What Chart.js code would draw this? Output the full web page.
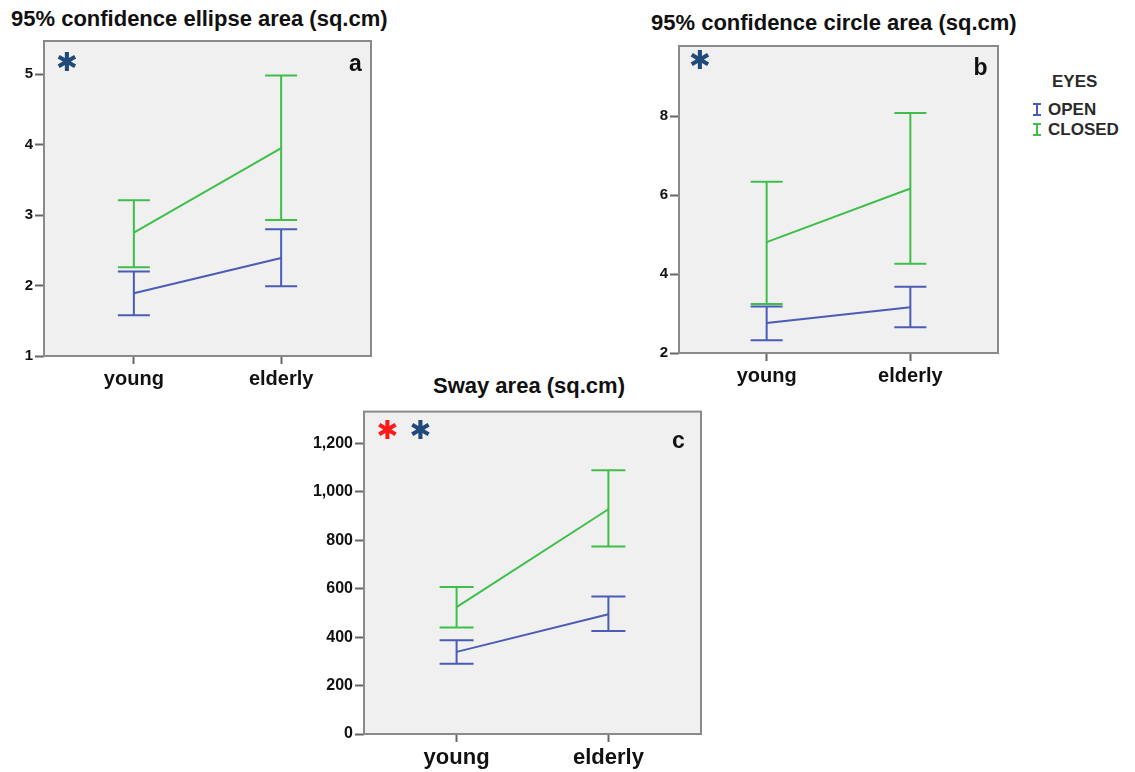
<!DOCTYPE html>
<html>
<head>
<meta charset="utf-8">
<title>Postural sway: young vs elderly, eyes open / closed</title>
<script src="https://cdn.jsdelivr.net/npm/chart.js@4.4.1/dist/chart.umd.min.js"></script>
<style>
  html, body { margin: 0; padding: 0; background: #fff; }
  body { position: relative; width: 1135px; height: 772px; overflow: hidden;
         font-family: "Liberation Sans", Arial, sans-serif; }
  .title { position: absolute; font-weight: bold; font-size: 22px; line-height: 22px;
           color: #111; white-space: nowrap; }
  canvas { position: absolute; }
  #legend { position: absolute; left: 1030px; top: 72px; font-weight: bold; font-size: 17px;
            color: #2a2a2a; line-height: 20px; }
  #legend .head { padding-left: 22px; margin-bottom: 8px; }
  #legend .row { position: relative; padding-left: 18px; }
  #legend .eb { position: absolute; left: 3px; top: 3px; width: 8px; height: 13px; box-sizing: border-box;
                border-top: 2px solid; border-bottom: 2px solid; }
  #legend .eb::after { content: ""; position: absolute; left: 3px; top: 0; bottom: 0; width: 2px; background: currentColor; }
</style>
</head>
<body>

<div class="title" style="left:11px; top:8px;">95% confidence ellipse area (sq.cm)</div>
<div class="title" style="left:651px; top:12px;">95% confidence circle area (sq.cm)</div>
<div class="title" style="left:433px; top:375px;">Sway area (sq.cm)</div>

<div id="legend">
  <div class="head">EYES</div>
  <div class="row"><span class="eb" style="color:#4a5cb5"></span>OPEN</div>
  <div class="row"><span class="eb" style="color:#3fbf4a"></span>CLOSED</div>
</div>

<canvas id="ellipse" width="385" height="375" style="left:0px; top:30px;"></canvas>
<canvas id="circle" width="380" height="370" style="left:630px; top:35px;"></canvas>
<canvas id="sway" width="415" height="372" style="left:300px; top:400px;"></canvas>

<script>
// Age groups on the x axis (positions 1 and 2 on a linear scale)
const groups = ['young', 'elderly'];
const groupPos = [1, 2];

// (a) 95% confidence ellipse area, sq.cm — mean and 95% CI
const ellipseOpenMean   = [1.89, 2.39];
const ellipseOpenLow    = [1.58, 1.99];
const ellipseOpenHigh   = [2.20, 2.80];
const ellipseClosedMean = [2.75, 3.95];
const ellipseClosedLow  = [2.26, 2.93];
const ellipseClosedHigh = [3.21, 4.98];
const ellipseTicks = [1, 2, 3, 4, 5];

// (b) 95% confidence circle area, sq.cm
const circleOpenMean   = [2.76, 3.16];
const circleOpenLow    = [2.32, 2.65];
const circleOpenHigh   = [3.18, 3.68];
const circleClosedMean = [4.81, 6.17];
const circleClosedLow  = [3.24, 4.26];
const circleClosedHigh = [6.34, 8.08];
const circleTicks = [2, 4, 6, 8];

// (c) Sway area, sq.cm
const swayOpenMean   = [339, 494];
const swayOpenLow    = [290, 425];
const swayOpenHigh   = [387, 568];
const swayClosedMean = [524, 928];
const swayClosedLow  = [440, 774];
const swayClosedHigh = [607, 1089];
const swayTicks = [0, 200, 400, 600, 800, 1000, 1200];

const OPEN_COLOR = '#4a5cb5';
const CLOSED_COLOR = '#3fbf4a';
const NAVY = '#1f4a7a';

// Grey plot box, background and corner annotations
const framePlugin = {
  id: 'frame',
  beforeDraw(chart) {
    const { ctx, chartArea: a } = chart;
    ctx.save();
    ctx.fillStyle = '#f0f0f0';
    ctx.fillRect(a.left, a.top, a.right - a.left, a.bottom - a.top);
    ctx.restore();
  },
  afterDraw(chart, args, opts) {
    const { ctx, chartArea: a } = chart;
    ctx.save();
    ctx.strokeStyle = '#8a8a8a';
    ctx.lineWidth = 2;
    ctx.strokeRect(a.left, a.top, a.right - a.left, a.bottom - a.top);
    (opts.marks || []).forEach(m => {
      ctx.font = m.font;
      ctx.fillStyle = m.color;
      ctx.textAlign = 'center';
      ctx.textBaseline = m.baseline || 'alphabetic';
      const x = m.fromRight !== undefined ? a.right - m.fromRight : a.left + m.dx;
      ctx.fillText(m.text, x, a.top + m.dy);
    });
    ctx.restore();
  }
};

// Vertical 95% CI bars with caps, placed through the chart's scales
const errorBarPlugin = {
  id: 'errorBars',
  afterDatasetsDraw(chart, args, opts) {
    const { ctx, scales: { x, y } } = chart;
    ctx.save();
    ctx.lineWidth = 2;
    chart.data.datasets.forEach(ds => {
      ctx.strokeStyle = ds.borderColor;
      ds.low.forEach((lo, i) => {
        const px = x.getPixelForValue(groupPos[i]);
        const yLo = y.getPixelForValue(lo);
        const yHi = y.getPixelForValue(ds.high[i]);
        ctx.beginPath();
        ctx.moveTo(px, yLo); ctx.lineTo(px, yHi);
        ctx.moveTo(px - opts.cap, yLo); ctx.lineTo(px + opts.cap, yLo);
        ctx.moveTo(px - opts.cap, yHi); ctx.lineTo(px + opts.cap, yHi);
        ctx.stroke();
      });
    });
    ctx.restore();
  }
};

function series(label, color, mean, low, high) {
  return {
    label,
    data: mean.map((v, i) => ({ x: groupPos[i], y: v })),
    low, high,
    borderColor: color,
    backgroundColor: color,
    borderWidth: 2,
    pointRadius: 0,
    tension: 0,
    fill: false
  };
}

function makePanel(id, p) {
  const tickFont = { family: '"Liberation Sans", Arial, sans-serif', weight: 'bold', size: p.tickSize };
  new Chart(document.getElementById(id), {
    type: 'line',
    data: {
      datasets: [
        series('CLOSED', CLOSED_COLOR, p.closedMean, p.closedLow, p.closedHigh),
        series('OPEN', OPEN_COLOR, p.openMean, p.openLow, p.openHigh)
      ]
    },
    options: {
      responsive: false,
      animation: false,
      devicePixelRatio: 1,
      layout: { padding: { top: p.padTop, right: p.padRight, left: 0, bottom: 0 } },
      plugins: {
        legend: { display: false },
        tooltip: { enabled: false },
        frame: { marks: p.marks },
        errorBars: { cap: p.cap }
      },
      scales: {
        x: {
          type: 'linear',
          min: 0.39, max: 2.61,
          afterBuildTicks: s => { s.ticks = groupPos.map(v => ({ value: v })); },
          afterFit: s => { s.height = p.xHeight; },
          ticks: {
            callback: v => groups[groupPos.indexOf(v)],
            font: { family: '"Liberation Sans", Arial, sans-serif', weight: 'bold', size: p.catSize },
            color: '#111',
            padding: 3,
            maxRotation: 0
          },
          grid: { drawOnChartArea: false, drawTicks: true, tickLength: 8, tickColor: '#666', tickWidth: 2 },
          border: { display: false }
        },
        y: {
          type: 'linear',
          min: p.yMin, max: p.yMax,
          afterBuildTicks: s => { s.ticks = p.ticks.map(v => ({ value: v })); },
          afterFit: s => { s.width = p.yWidth; },
          ticks: {
            callback: v => v.toLocaleString('en-US'),
            font: tickFont,
            color: '#111',
            padding: 2
          },
          grid: { drawOnChartArea: false, drawTicks: true, tickLength: 9, tickColor: '#666', tickWidth: 2 },
          border: { display: false }
        }
      }
    },
    plugins: [framePlugin, errorBarPlugin]
  });
}

const starFont = 'bold 26px "DejaVu Sans", sans-serif';
const letterFont = 'bold 23px "Liberation Sans", Arial, sans-serif';

makePanel('ellipse', {
  openMean: ellipseOpenMean, openLow: ellipseOpenLow, openHigh: ellipseOpenHigh,
  closedMean: ellipseClosedMean, closedLow: ellipseClosedLow, closedHigh: ellipseClosedHigh,
  ticks: ellipseTicks, yMin: 1, yMax: 5.47,
  yWidth: 44, xHeight: 49, padTop: 11, padRight: 14,
  tickSize: 15, catSize: 20, cap: 16,
  marks: [
    { text: '✱', color: NAVY, font: starFont, dx: 23, dy: 23.5, baseline: 'middle' },
    { text: 'a', color: '#111', font: letterFont, fromRight: 15.5, dy: 30 }
  ]
});

makePanel('circle', {
  openMean: circleOpenMean, openLow: circleOpenLow, openHigh: circleOpenHigh,
  closedMean: circleClosedMean, closedLow: circleClosedLow, closedHigh: circleClosedHigh,
  ticks: circleTicks, yMin: 2, yMax: 9.78,
  yWidth: 49, xHeight: 52, padTop: 11, padRight: 12,
  tickSize: 15, catSize: 20, cap: 16,
  marks: [
    { text: '✱', color: NAVY, font: starFont, dx: 21, dy: 16.5, baseline: 'middle' },
    { text: 'b', color: '#111', font: letterFont, fromRight: 17.5, dy: 29 }
  ]
});

makePanel('sway', {
  openMean: swayOpenMean, openLow: swayOpenLow, openHigh: swayOpenHigh,
  closedMean: swayClosedMean, closedLow: swayClosedLow, closedHigh: swayClosedHigh,
  ticks: swayTicks, yMin: 0, yMax: 1331,
  yWidth: 64, xHeight: 38, padTop: 10, padRight: 14,
  tickSize: 16, catSize: 22, cap: 17,
  marks: [
    { text: '✱', color: '#ff1a1a', font: starFont, dx: 23.5, dy: 21, baseline: 'middle' },
    { text: '✱', color: NAVY, font: starFont, dx: 56.5, dy: 21, baseline: 'middle' },
    { text: 'c', color: '#111', font: letterFont, fromRight: 22.5, dy: 36.5 }
  ]
});
</script>
</body>
</html>
